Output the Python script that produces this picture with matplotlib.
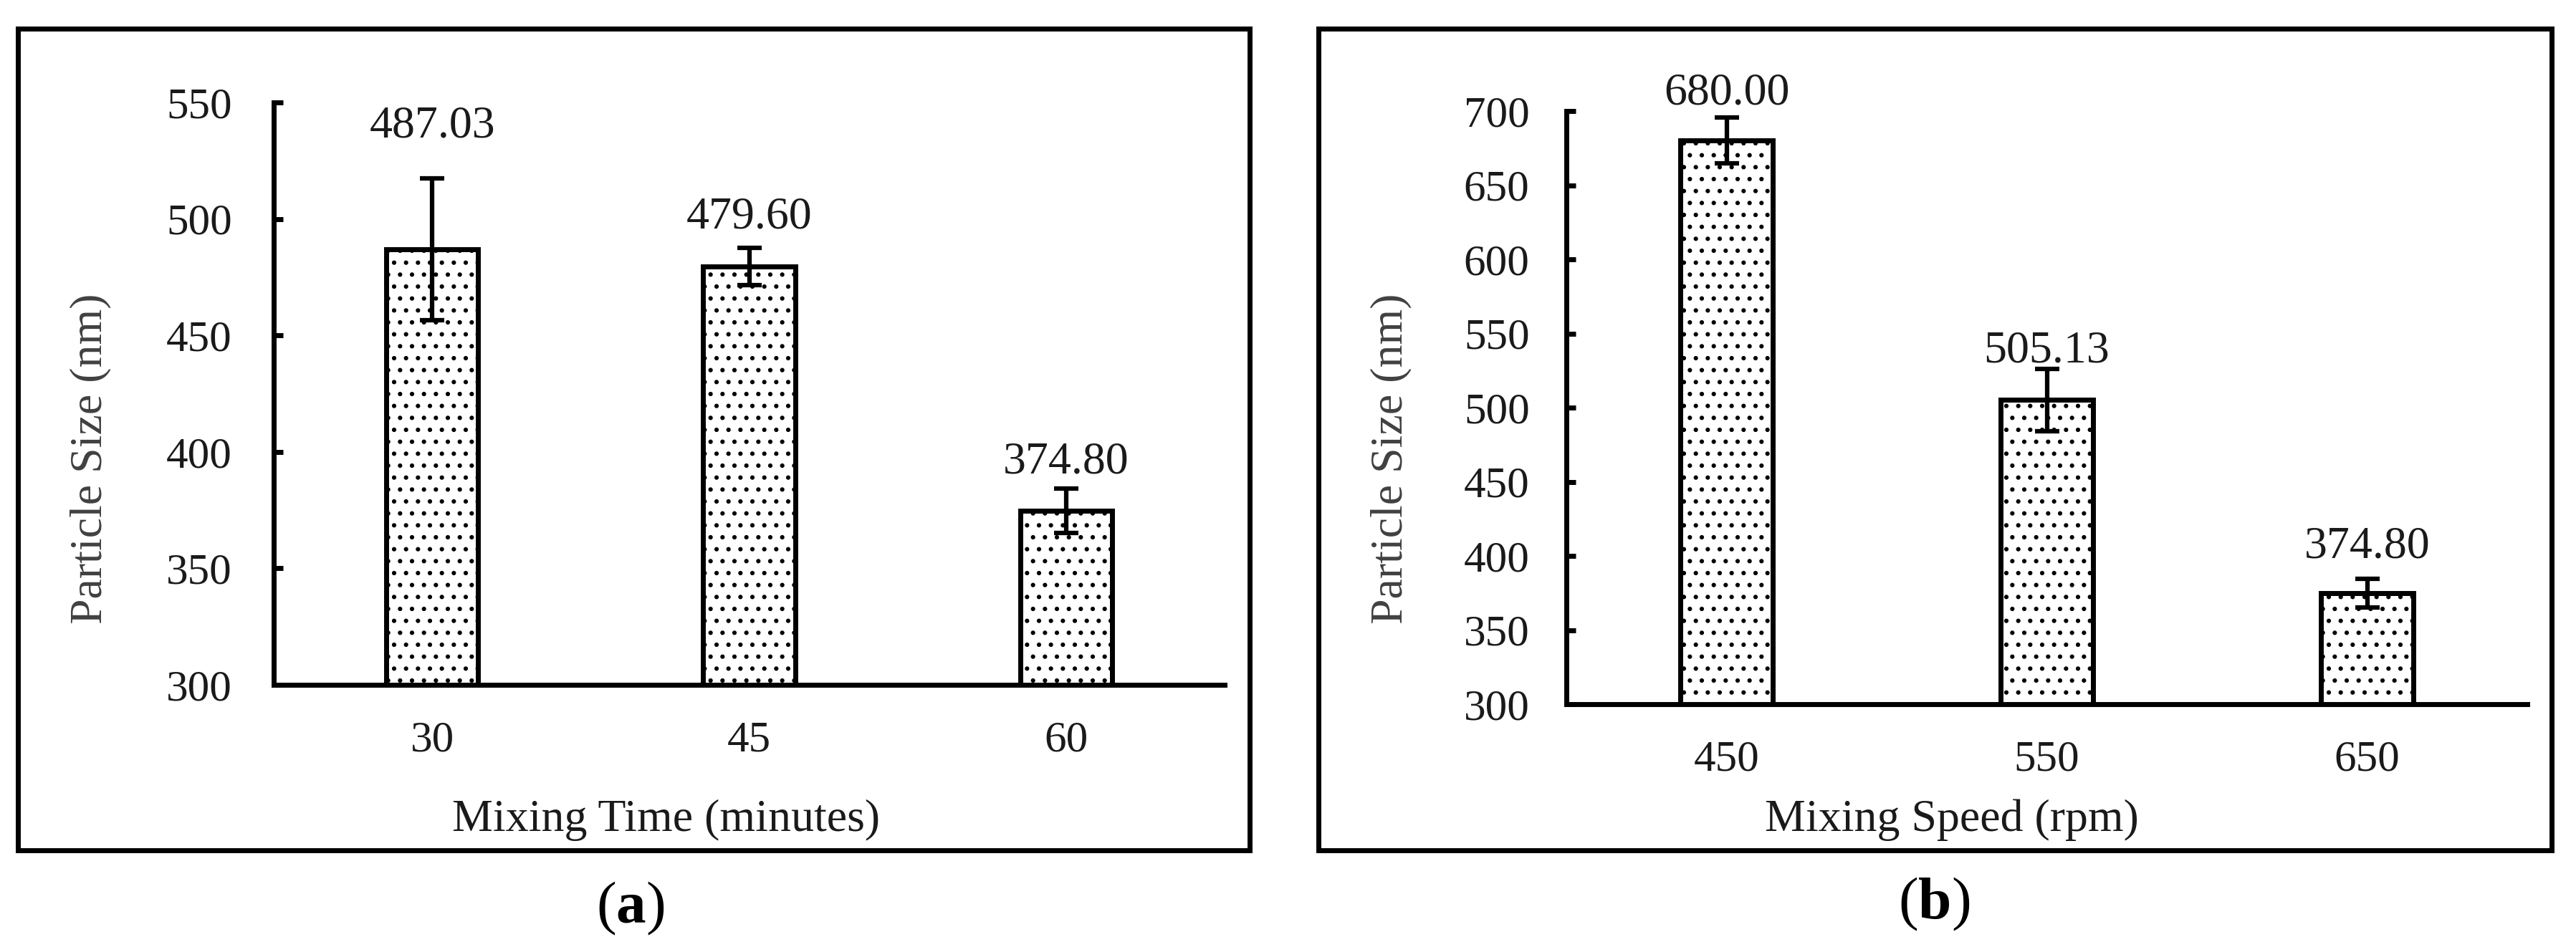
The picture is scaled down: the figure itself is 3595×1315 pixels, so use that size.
import matplotlib
matplotlib.use("Agg")
import matplotlib.pyplot as plt
from matplotlib.patches import Rectangle
import numpy as np

# ---- data ----
time_labels = ["30", "45", "60"]
time_values = [487.03, 479.60, 374.80]
time_errors = [30.5, 8.0, 9.5]

speed_labels = ["450", "550", "650"]
speed_values = [680.00, 505.13, 374.80]
speed_errors = [15.5, 21.0, 9.5]

plt.rcParams['font.family'] = ['Liberation Serif', 'DejaVu Serif']
plt.rcParams['mathtext.fontset'] = 'custom'
plt.rcParams['mathtext.rm'] = 'Liberation Serif'
plt.rcParams['mathtext.bf'] = 'Liberation Serif:bold'
plt.rcParams['hatch.linewidth'] = 2.0
plt.rcParams['hatch.color'] = 'black'

W, H = 3595, 1315
DPI = 100
fig = plt.figure(figsize=(W / DPI, H / DPI), dpi=DPI)
fig.patch.set_facecolor('white')


def fx(px):
    return px / W


def fy(py):
    return 1 - py / H


def panel(rect_px, cats, vals, errs, ylim, yticks, xlabel, label_off,
          ylab_xy, xlab_xy, cap_xy, cap_letter, frame_px, ytick_pad):
    l, r, t, b = rect_px
    ax = fig.add_axes([fx(l), fy(b), fx(r) - fx(l), fy(t) - fy(b)])
    x = np.arange(len(cats))
    ax.bar(x, vals, width=0.29, color='white', edgecolor='black',
           linewidth=5, hatch='.', zorder=2)
    ax.errorbar(x, vals, yerr=errs, fmt='none', ecolor='black',
                elinewidth=4.5, capsize=12, capthick=4.5, zorder=3)
    for xi, v, e, off in zip(x, vals, errs, label_off):
        ax.annotate(f"{v:.2f}", (xi, v + e), xytext=(0, off),
                    textcoords='offset pixels', ha='center', va='center',
                    fontsize=46, color='#1a1a1a', zorder=4)
    ax.set_xlim(-0.5, 2.5)
    ax.set_ylim(*ylim)
    ax.set_yticks(yticks)
    ax.set_xticks(x)
    ax.set_xticklabels(cats)
    for s in ['top', 'right']:
        ax.spines[s].set_visible(False)
    for s in ['left', 'bottom']:
        ax.spines[s].set_linewidth(5)
        ax.spines[s].set_capstyle('projecting')
    ax.tick_params(axis='y', direction='in', length=9, width=5,
                   labelsize=44, pad=ytick_pad, labelcolor='#1a1a1a')
    ax.tick_params(axis='x', length=0, labelsize=44, pad=36,
                   labelcolor='#1a1a1a')
    ax.set_facecolor('none')
    fig.text(fx(xlab_xy[0]), fy(xlab_xy[1]), xlabel, ha='center',
             va='center', fontsize=46, color='#1a1a1a')
    fig.text(fx(ylab_xy[0]), fy(ylab_xy[1]), "Particle Size (nm)",
             ha='center', va='center', rotation=90, fontsize=46,
             color='#404040')
    fig.text(fx(cap_xy[0]), fy(cap_xy[1]),
             "(" + r"$\mathbf{" + cap_letter + "}$" + ")",
             ha='center', va='center', fontsize=60)
    fl, fr, ft, fb = frame_px
    fig.add_artist(Rectangle((fx(fl), fy(fb)), fx(fr) - fx(fl),
                             fy(ft) - fy(fb), transform=fig.transFigure,
                             fill=False, edgecolor='black', linewidth=5))
    return ax


axA = panel((382, 1709, 143, 956), time_labels, time_values, time_errors,
            (300, 550), np.arange(300, 551, 50), "Mixing Time (minutes)",
            [72, 42, 36], (126, 640), (929, 1145), (880, 1268), "a",
            (25, 1744, 40, 1187), 42)
axB = panel((2186, 3527, 155, 983), speed_labels, speed_values, speed_errors,
            (300, 700), np.arange(300, 701, 50), "Mixing Speed (rpm)",
            [34, 24, 45], (1941, 640), (2724, 1145), (2699, 1262), "b",
            (1840, 3561, 40, 1187), 37)

fig.savefig("out.png", dpi=DPI, facecolor='white')
